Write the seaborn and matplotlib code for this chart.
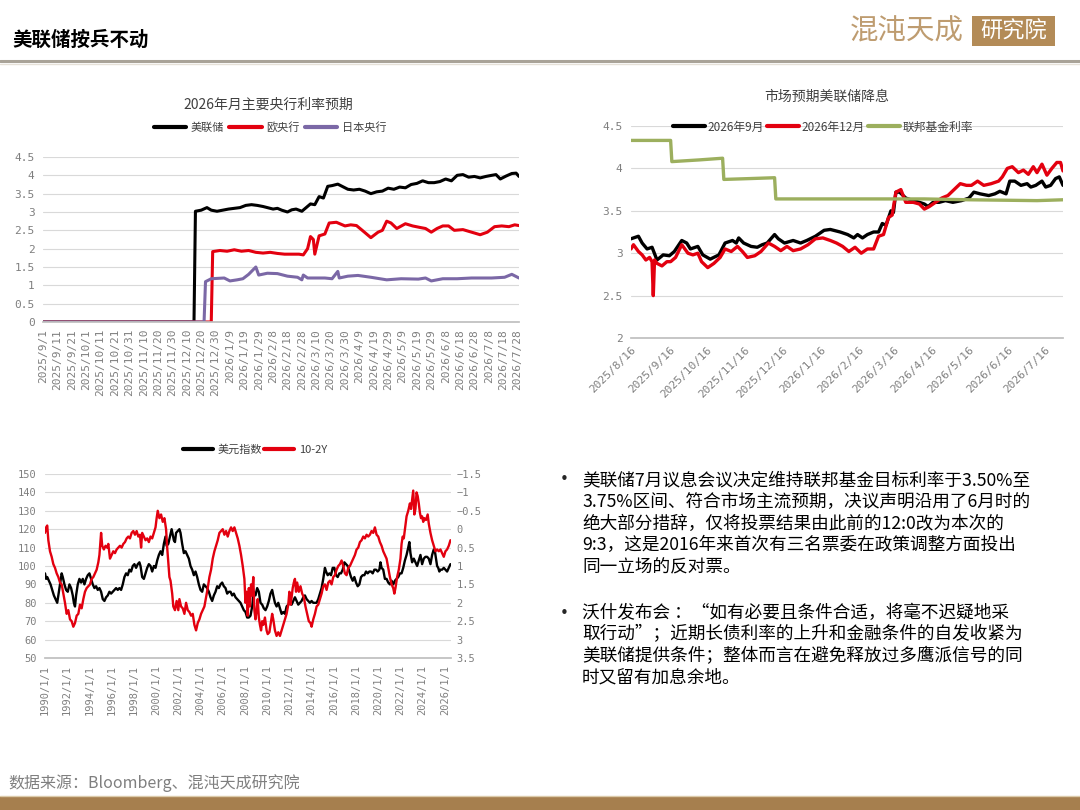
import numpy as np
import pandas as pd
import seaborn as sns
import matplotlib.pyplot as plt
import matplotlib.dates as mdates
from matplotlib.lines import Line2D
from matplotlib.patches import Rectangle
from matplotlib.ticker import FuncFormatter, MultipleLocator

# ---- chart 1: 2026 policy rate expectations by central bank ----
fed_dates = ['2025-09-01', '2025-12-15', '2025-12-16', '2025-12-20', '2025-12-24', '2025-12-27',
             '2025-12-31', '2026-01-04', '2026-01-08', '2026-01-12', '2026-01-16', '2026-01-20',
             '2026-01-24', '2026-01-28', '2026-02-01', '2026-02-04', '2026-02-08', '2026-02-11',
             '2026-02-14', '2026-02-18', '2026-02-21', '2026-02-24', '2026-02-28', '2026-03-03',
             '2026-03-06', '2026-03-09', '2026-03-12', '2026-03-15', '2026-03-18', '2026-03-21',
             '2026-03-25', '2026-03-28', '2026-04-01', '2026-04-05', '2026-04-09', '2026-04-13',
             '2026-04-17', '2026-04-21', '2026-04-25', '2026-04-29', '2026-05-03', '2026-05-07',
             '2026-05-11', '2026-05-15', '2026-05-19', '2026-05-23', '2026-05-27', '2026-05-31',
             '2026-06-04', '2026-06-08', '2026-06-12', '2026-06-16', '2026-06-20', '2026-06-24',
             '2026-06-28', '2026-07-02', '2026-07-06', '2026-07-10', '2026-07-13', '2026-07-16',
             '2026-07-20', '2026-07-24', '2026-07-27', '2026-07-29']
fed_vals = [0, 0, 3.02, 3.05, 3.12, 3.05, 3.02, 3.05, 3.08, 3.10, 3.12, 3.18,
            3.20, 3.18, 3.15, 3.12, 3.08, 3.10, 3.05, 3.00, 3.06, 3.08, 3.02, 3.12,
            3.22, 3.20, 3.42, 3.38, 3.70, 3.72, 3.76, 3.70, 3.62, 3.60, 3.62, 3.57,
            3.50, 3.55, 3.57, 3.65, 3.62, 3.68, 3.66, 3.75, 3.78, 3.85, 3.80, 3.80,
            3.83, 3.90, 3.85, 4.00, 4.02, 3.95, 3.97, 3.93, 3.97, 4.00, 4.02, 3.90,
            3.98, 4.05, 4.06, 3.97]

ecb_dates = ['2025-09-01', '2025-12-27', '2025-12-28', '2026-01-02', '2026-01-07', '2026-01-12',
             '2026-01-17', '2026-01-22', '2026-01-27', '2026-02-01', '2026-02-06', '2026-02-11',
             '2026-02-16', '2026-02-21', '2026-02-26', '2026-03-01', '2026-03-04', '2026-03-06',
             '2026-03-08', '2026-03-09', '2026-03-12', '2026-03-16', '2026-03-19', '2026-03-24',
             '2026-03-30', '2026-04-03', '2026-04-07', '2026-04-11', '2026-04-17', '2026-04-22',
             '2026-04-25', '2026-04-28', '2026-05-01', '2026-05-05', '2026-05-11', '2026-05-16',
             '2026-05-21', '2026-05-25', '2026-05-29', '2026-06-02', '2026-06-06', '2026-06-10',
             '2026-06-14', '2026-06-20', '2026-06-26', '2026-07-02', '2026-07-07', '2026-07-12',
             '2026-07-17', '2026-07-22', '2026-07-26', '2026-07-29']
ecb_vals = [0, 0, 1.92, 1.95, 1.93, 1.97, 1.93, 1.95, 1.90, 1.88, 1.90, 1.87,
            1.85, 1.85, 1.85, 1.83, 2.00, 2.33, 2.25, 1.85, 2.35, 2.40, 2.70, 2.72,
            2.62, 2.65, 2.63, 2.50, 2.30, 2.45, 2.50, 2.75, 2.70, 2.55, 2.68, 2.62,
            2.58, 2.55, 2.45, 2.55, 2.62, 2.62, 2.50, 2.52, 2.45, 2.38, 2.45, 2.60,
            2.62, 2.60, 2.65, 2.63]

boj_dates = ['2025-09-01', '2025-12-22', '2025-12-23', '2025-12-27', '2026-01-05', '2026-01-09',
             '2026-01-14', '2026-01-18', '2026-01-22', '2026-01-25', '2026-01-27', '2026-01-29',
             '2026-02-04', '2026-02-11', '2026-02-18', '2026-02-25', '2026-02-28', '2026-03-01',
             '2026-03-04', '2026-03-16', '2026-03-21', '2026-03-25', '2026-03-26', '2026-04-01',
             '2026-04-08', '2026-04-17', '2026-04-28', '2026-05-08', '2026-05-20', '2026-05-25',
             '2026-05-29', '2026-06-06', '2026-06-16', '2026-06-26', '2026-07-10', '2026-07-19',
             '2026-07-24', '2026-07-29']
boj_vals = [0, 0, 1.10, 1.18, 1.20, 1.12, 1.15, 1.18, 1.30, 1.42, 1.50, 1.28,
            1.33, 1.32, 1.25, 1.22, 1.15, 1.28, 1.20, 1.20, 1.18, 1.38, 1.20, 1.25,
            1.27, 1.22, 1.15, 1.18, 1.17, 1.20, 1.12, 1.18, 1.18, 1.20, 1.20, 1.22,
            1.30, 1.20]

# ---- chart 2: market-implied fed funds path ----
sep_dates = ['2025-08-16', '2025-08-22', '2025-08-25', '2025-08-29', '2025-09-02', '2025-09-06',
             '2025-09-11', '2025-09-16', '2025-09-20', '2025-09-26', '2025-09-30', '2025-10-03',
             '2025-10-09', '2025-10-13', '2025-10-19', '2025-10-26', '2025-10-31', '2025-11-06',
             '2025-11-09', '2025-11-11', '2025-11-15', '2025-11-21', '2025-11-26', '2025-11-30',
             '2025-12-04', '2025-12-10', '2025-12-13', '2025-12-18', '2025-12-25', '2025-12-31',
             '2026-01-05', '2026-01-12', '2026-01-19', '2026-01-24', '2026-02-01', '2026-02-07',
             '2026-02-12', '2026-02-15', '2026-02-19', '2026-02-23', '2026-02-28', '2026-03-04',
             '2026-03-07', '2026-03-10', '2026-03-14', '2026-03-16', '2026-03-18', '2026-03-21',
             '2026-03-26', '2026-04-01', '2026-04-06', '2026-04-10', '2026-04-13', '2026-04-17',
             '2026-04-22', '2026-04-27', '2026-05-03', '2026-05-10', '2026-05-16', '2026-05-20',
             '2026-05-25', '2026-06-01', '2026-06-06', '2026-06-10', '2026-06-15', '2026-06-18',
             '2026-06-22', '2026-06-27', '2026-07-02', '2026-07-05', '2026-07-09', '2026-07-14',
             '2026-07-17', '2026-07-21', '2026-07-25', '2026-07-28', '2026-07-31']
sep_vals = [3.17, 3.20, 3.12, 3.05, 3.07, 2.92, 2.98, 2.97, 3.02, 3.15, 3.12, 3.05,
            3.08, 2.98, 2.93, 2.98, 3.12, 3.15, 3.12, 3.18, 3.12, 3.08, 3.07, 3.10,
            3.12, 3.22, 3.17, 3.12, 3.15, 3.12, 3.15, 3.20, 3.27, 3.28, 3.25, 3.22,
            3.18, 3.22, 3.18, 3.22, 3.25, 3.25, 3.35, 3.33, 3.50, 3.48, 3.72, 3.72,
            3.65, 3.62, 3.60, 3.58, 3.55, 3.60, 3.60, 3.62, 3.60, 3.62, 3.65, 3.72,
            3.70, 3.68, 3.70, 3.73, 3.70, 3.85, 3.85, 3.80, 3.82, 3.78, 3.80, 3.85,
            3.78, 3.80, 3.88, 3.90, 3.80]

dec_dates = ['2025-08-16', '2025-08-18', '2025-08-22', '2025-08-25', '2025-08-28', '2025-08-31',
             '2025-09-02', '2025-09-03', '2025-09-04', '2025-09-06', '2025-09-10', '2025-09-14',
             '2025-09-17', '2025-09-21', '2025-09-26', '2025-10-01', '2025-10-05', '2025-10-09',
             '2025-10-12', '2025-10-17', '2025-10-22', '2025-10-27', '2025-10-31', '2025-11-05',
             '2025-11-10', '2025-11-14', '2025-11-18', '2025-11-24', '2025-11-29', '2025-12-05',
             '2025-12-10', '2025-12-15', '2025-12-20', '2025-12-25', '2025-12-31', '2026-01-06',
             '2026-01-12', '2026-01-18', '2026-01-24', '2026-01-29', '2026-02-03', '2026-02-08',
             '2026-02-13', '2026-02-18', '2026-02-23', '2026-02-28', '2026-03-04', '2026-03-08',
             '2026-03-12', '2026-03-15', '2026-03-18', '2026-03-22', '2026-03-26', '2026-04-01',
             '2026-04-06', '2026-04-10', '2026-04-14', '2026-04-19', '2026-04-24', '2026-04-29',
             '2026-05-04', '2026-05-09', '2026-05-14', '2026-05-18', '2026-05-23', '2026-05-28',
             '2026-06-03', '2026-06-09', '2026-06-12', '2026-06-16', '2026-06-20', '2026-06-25',
             '2026-06-29', '2026-07-03', '2026-07-07', '2026-07-10', '2026-07-14', '2026-07-18',
             '2026-07-22', '2026-07-26', '2026-07-29', '2026-07-31']
dec_vals = [3.05, 3.10, 3.02, 2.98, 2.92, 2.95, 2.90, 2.50, 2.92, 2.88, 2.85, 2.90,
            2.90, 2.95, 3.10, 3.00, 2.98, 3.00, 2.90, 2.83, 2.88, 2.95, 3.05, 3.02,
            3.08, 3.02, 2.95, 2.97, 3.02, 3.12, 3.08, 3.03, 3.08, 3.03, 3.05, 3.10,
            3.17, 3.18, 3.15, 3.12, 3.08, 3.02, 3.07, 3.00, 3.05, 3.05, 3.20, 3.22,
            3.42, 3.45, 3.72, 3.75, 3.60, 3.60, 3.58, 3.52, 3.55, 3.60, 3.65, 3.68,
            3.75, 3.82, 3.80, 3.80, 3.85, 3.80, 3.82, 3.85, 3.90, 4.00, 4.02, 3.95,
            3.98, 3.93, 4.02, 3.95, 4.05, 3.92, 4.00, 4.07, 4.07, 3.97]

ffr_dates = ['2025-08-16', '2025-09-17', '2025-09-18', '2025-10-10', '2025-10-29', '2025-10-30',
             '2025-11-20', '2025-12-10', '2025-12-11', '2026-02-10', '2026-04-10', '2026-05-16',
             '2026-07-10', '2026-07-31']
ffr_vals = [4.33, 4.33, 4.08, 4.10, 4.12, 3.87, 3.88, 3.89, 3.64, 3.64, 3.64, 3.63,
            3.62, 3.63]

# ---- chart 3: dollar index vs 10y-2y spread ----
dxy_years = [1990.0, 1990.1, 1990.2, 1990.35, 1990.5, 1990.65, 1990.8, 1990.95, 1991.1, 1991.2,
             1991.35, 1991.5, 1991.6, 1991.75, 1991.9, 1992.05, 1992.2, 1992.35, 1992.5, 1992.6,
             1992.7, 1992.8, 1992.95, 1993.1, 1993.25, 1993.4, 1993.55, 1993.7, 1993.85, 1994.0,
             1994.15, 1994.3, 1994.45, 1994.6, 1994.75, 1994.9, 1995.05, 1995.2, 1995.35, 1995.5,
             1995.65, 1995.8, 1995.95, 1996.1, 1996.25, 1996.4, 1996.55, 1996.7, 1996.85, 1997.0,
             1997.15, 1997.3, 1997.45, 1997.6, 1997.75, 1997.9, 1998.05, 1998.2, 1998.35, 1998.5,
             1998.6, 1998.75, 1998.9, 1999.05, 1999.2, 1999.35, 1999.5, 1999.65, 1999.8, 1999.95,
             2000.1, 2000.25, 2000.4, 2000.55, 2000.7, 2000.85, 2000.95, 2001.1, 2001.25, 2001.4,
             2001.5, 2001.6, 2001.7, 2001.8, 2001.95, 2002.1, 2002.2, 2002.35, 2002.5, 2002.65,
             2002.8, 2002.95, 2003.1, 2003.25, 2003.4, 2003.55, 2003.7, 2003.85, 2004.0, 2004.15,
             2004.3, 2004.45, 2004.6, 2004.75, 2004.9, 2005.05, 2005.2, 2005.35, 2005.5, 2005.65,
             2005.8, 2005.95, 2006.1, 2006.25, 2006.4, 2006.55, 2006.7, 2006.85, 2007.0, 2007.15,
             2007.3, 2007.45, 2007.6, 2007.75, 2007.9, 2008.05, 2008.2, 2008.35, 2008.5, 2008.65,
             2008.8, 2008.95, 2009.1, 2009.25, 2009.4, 2009.55, 2009.7, 2009.85, 2010.0, 2010.15,
             2010.3, 2010.45, 2010.55, 2010.7, 2010.85, 2011.0, 2011.15, 2011.3, 2011.45, 2011.6,
             2011.75, 2011.9, 2012.05, 2012.2, 2012.35, 2012.5, 2012.65, 2012.8, 2012.95, 2013.1,
             2013.25, 2013.4, 2013.55, 2013.7, 2013.85, 2014.0, 2014.15, 2014.3, 2014.45, 2014.6,
             2014.75, 2014.9, 2015.05, 2015.2, 2015.3, 2015.45, 2015.6, 2015.75, 2015.9, 2016.05,
             2016.2, 2016.35, 2016.5, 2016.65, 2016.8, 2016.95, 2017.1, 2017.25, 2017.4, 2017.55,
             2017.7, 2017.85, 2018.0, 2018.15, 2018.3, 2018.45, 2018.6, 2018.75, 2018.9, 2019.05,
             2019.2, 2019.35, 2019.5, 2019.65, 2019.8, 2019.95, 2020.1, 2020.2, 2020.3, 2020.45,
             2020.6, 2020.75, 2020.9, 2021.05, 2021.2, 2021.35, 2021.5, 2021.65, 2021.8, 2021.95,
             2022.1, 2022.25, 2022.4, 2022.55, 2022.7, 2022.8, 2022.9, 2023.05, 2023.2, 2023.35,
             2023.5, 2023.65, 2023.8, 2023.95, 2024.1, 2024.25, 2024.4, 2024.55, 2024.7, 2024.85,
             2025.0, 2025.1, 2025.2, 2025.3, 2025.4, 2025.5, 2025.6, 2025.75, 2025.9, 2026.05,
             2026.2, 2026.35, 2026.5]
dxy_vals = [96, 93, 94, 92, 90, 87, 84, 82, 80, 84,
            90, 96, 94, 90, 87, 86, 90, 88, 84, 80,
            78, 84, 90, 93, 91, 93, 90, 93, 95, 96,
            93, 90, 88, 89, 87, 88, 86, 82, 81, 83,
            84, 86, 85, 86, 87, 88, 87, 88, 87, 90,
            94, 96, 95, 98, 97, 100, 101, 99, 101, 102,
            100, 94, 93, 96, 99, 101, 100, 97, 100, 99,
            103, 106, 108, 106, 112, 116, 111, 112, 116, 120,
            117, 114, 113, 118, 119, 120, 118, 112, 107, 108,
            106, 104, 100, 98, 95, 97, 94, 90, 87, 86,
            90, 89, 88, 86, 83, 81, 84, 86, 89, 88,
            90, 91, 89, 88, 85, 86, 86, 84, 85, 83,
            82, 81, 80, 78, 76, 75, 72, 72, 73, 78,
            86, 84, 88, 86, 80, 79, 77, 76, 78, 81,
            85, 87, 84, 80, 78, 80, 77, 74, 75, 74,
            78, 79, 80, 79, 81, 83, 81, 79, 80, 81,
            83, 84, 82, 81, 80, 81, 80, 80, 80, 82,
            85, 88, 93, 99, 97, 95, 96, 95, 99, 99,
            95, 94, 96, 96, 98, 102, 101, 100, 97, 94,
            92, 94, 91, 89, 90, 94, 95, 95, 97, 96,
            97, 97, 96, 98, 98, 97, 98, 102, 99, 98,
            93, 93, 91, 90, 92, 90, 92, 93, 94, 96,
            96, 99, 103, 106, 110, 113, 107, 102, 104, 102,
            100, 103, 106, 101, 104, 105, 105, 104, 101, 106,
            109, 108, 104, 100, 99, 97, 98, 98, 99, 98,
            97, 99, 101]

spread_years = [1990.0, 1990.1, 1990.2, 1990.3, 1990.45, 1990.6, 1990.75, 1990.9, 1991.05, 1991.2,
                1991.35, 1991.5, 1991.65, 1991.8, 1991.95, 1992.1, 1992.25, 1992.4, 1992.55, 1992.7,
                1992.85, 1993.0, 1993.15, 1993.3, 1993.45, 1993.6, 1993.75, 1993.9, 1994.05, 1994.2,
                1994.35, 1994.5, 1994.65, 1994.8, 1994.9, 1995.0, 1995.05, 1995.15, 1995.3, 1995.45,
                1995.6, 1995.7, 1995.85, 1996.0, 1996.15, 1996.3, 1996.45, 1996.6, 1996.75, 1996.9,
                1997.05, 1997.2, 1997.35, 1997.5, 1997.65, 1997.8, 1997.95, 1998.1, 1998.25, 1998.4,
                1998.55, 1998.65, 1998.75, 1998.9, 1999.05, 1999.2, 1999.35, 1999.5, 1999.65, 1999.8,
                1999.95, 2000.05, 2000.15, 2000.3, 2000.45, 2000.6, 2000.75, 2000.9, 2001.0, 2001.1,
                2001.2, 2001.3, 2001.45, 2001.55, 2001.7, 2001.85, 2002.0, 2002.1, 2002.25, 2002.4,
                2002.55, 2002.7, 2002.85, 2003.0, 2003.15, 2003.3, 2003.45, 2003.6, 2003.75, 2003.9,
                2004.05, 2004.2, 2004.35, 2004.5, 2004.65, 2004.8, 2004.95, 2005.1, 2005.25, 2005.4,
                2005.55, 2005.7, 2005.85, 2006.0, 2006.15, 2006.3, 2006.45, 2006.6, 2006.75, 2006.9,
                2007.05, 2007.2, 2007.35, 2007.5, 2007.65, 2007.8, 2007.95, 2008.05, 2008.15, 2008.25,
                2008.35, 2008.45, 2008.55, 2008.65, 2008.75, 2008.85, 2008.95, 2009.05, 2009.15, 2009.25,
                2009.35, 2009.45, 2009.55, 2009.65, 2009.8, 2009.95, 2010.05, 2010.2, 2010.35, 2010.45,
                2010.55, 2010.7, 2010.85, 2011.0, 2011.15, 2011.3, 2011.45, 2011.6, 2011.75, 2011.9,
                2012.0, 2012.1, 2012.2, 2012.3, 2012.4, 2012.5, 2012.6, 2012.7, 2012.85, 2013.0,
                2013.15, 2013.3, 2013.45, 2013.6, 2013.75, 2013.9, 2014.0, 2014.15, 2014.3, 2014.45,
                2014.6, 2014.75, 2014.9, 2015.05, 2015.2, 2015.35, 2015.5, 2015.65, 2015.8, 2015.95,
                2016.1, 2016.25, 2016.4, 2016.55, 2016.7, 2016.85, 2017.0, 2017.15, 2017.3, 2017.45,
                2017.6, 2017.75, 2017.9, 2018.05, 2018.2, 2018.35, 2018.5, 2018.65, 2018.8, 2018.95,
                2019.1, 2019.25, 2019.4, 2019.55, 2019.7, 2019.85, 2020.0, 2020.15, 2020.3, 2020.45,
                2020.6, 2020.75, 2020.9, 2021.05, 2021.2, 2021.35, 2021.45, 2021.55, 2021.7, 2021.85,
                2022.0, 2022.1, 2022.2, 2022.3, 2022.45, 2022.55, 2022.7, 2022.85, 2022.95, 2023.05,
                2023.15, 2023.25, 2023.35, 2023.45, 2023.55, 2023.65, 2023.75, 2023.85, 2023.95, 2024.05,
                2024.15, 2024.3, 2024.45, 2024.55, 2024.7, 2024.85, 2025.0, 2025.15, 2025.3, 2025.45,
                2025.6, 2025.75, 2025.9, 2026.05, 2026.2, 2026.35, 2026.5]
spread_vals = [0.10, -0.05, -0.10, 0.30, 0.60, 0.75, 0.95, 1.05, 1.20, 1.30,
               1.45, 1.50, 1.75, 2.00, 2.30, 2.20, 2.45, 2.50, 2.65, 2.55,
               2.35, 2.30, 2.05, 2.15, 1.90, 1.70, 1.60, 1.55, 1.50, 1.35,
               1.30, 1.20, 1.10, 0.90, 0.70, 0.30, 0.10, 0.45, 0.55, 0.45,
               0.50, 0.40, 0.80, 0.70, 0.60, 0.65, 0.55, 0.50, 0.45, 0.50,
               0.40, 0.35, 0.25, 0.20, 0.25, 0.10, 0.05, 0.15, 0.05, 0.20,
               0.15, 0.50, 0.10, 0.20, 0.30, 0.25, 0.35, 0.20, 0.25, 0.10,
               -0.05, -0.30, -0.50, -0.30, -0.40, -0.20, -0.30, 0.00, 0.50, 0.90,
               1.30, 1.40, 1.75, 2.10, 2.20, 1.95, 2.20, 1.90, 2.10, 2.15,
               2.30, 2.00, 2.20, 2.25, 2.35, 2.30, 2.60, 2.75, 2.55, 2.45,
               2.30, 2.20, 2.10, 1.85, 1.60, 1.30, 1.10, 0.80, 0.60, 0.45,
               0.30, 0.10, 0.05, 0.00, 0.15, 0.05, 0.20, 0.05, -0.05, 0.05,
               -0.05, 0.10, 0.25, 0.45, 0.70, 1.00, 1.35, 2.00, 1.70, 2.35,
               1.60, 2.10, 1.50, 1.80, 1.30, 2.20, 2.45, 2.20, 1.90, 2.40,
               2.60, 2.75, 2.50, 2.60, 2.40, 2.75, 2.85, 2.80, 2.50, 2.30,
               2.45, 2.75, 2.90, 2.80, 2.90, 2.75, 2.60, 2.45, 2.30, 2.05,
               1.70, 2.05, 1.85, 1.60, 1.45, 1.35, 1.70, 1.45, 1.70, 1.55,
               1.75, 1.85, 2.10, 2.30, 2.50, 2.55, 2.65, 2.45, 2.30, 2.10,
               2.05, 1.90, 1.75, 1.55, 1.50, 1.65, 1.45, 1.40, 1.50, 1.30,
               1.25, 1.10, 1.00, 0.95, 0.85, 1.00, 1.20, 1.25, 1.05, 1.00,
               0.90, 0.80, 0.70, 0.55, 0.50, 0.35, 0.30, 0.20, 0.25, 0.15,
               0.20, 0.15, 0.05, 0.10, -0.05, 0.15, 0.20, 0.35, 0.45, 0.60,
               0.70, 0.80, 1.05, 1.30, 1.50, 1.60, 1.75, 1.60, 1.30, 1.10,
               0.80, 0.40, 0.20, 0.25, -0.10, -0.35, -0.50, -0.70, -0.55, -0.80,
               -1.05, -0.40, -0.55, -1.00, -0.90, -0.70, -0.45, -0.30, -0.35, -0.20,
               -0.30, -0.25, -0.40, -0.15, 0.10, 0.30, 0.45, 0.60, 0.55, 0.60,
               0.55, 0.65, 0.75, 0.60, 0.55, 0.45, 0.30]

para1 = ["美联储7月议息会议决定维持联邦基金目标利率于3.50%至",
         "3.75%区间、符合市场主流预期，决议声明沿用了6月时的",
         "绝大部分措辞，仅将投票结果由此前的12:0改为本次的",
         "9:3，这是2016年来首次有三名票委在政策调整方面投出",
         "同一立场的反对票。"]
para2 = ["沃什发布会 ：“如有必要且条件合适，将毫不迟疑地采",
         "取行动”；近期长债利率的上升和金融条件的自发收紧为",
         "美联储提供条件；整体而言在避免释放过多鹰派信号的同",
         "时又留有加息余地。"]

BLACK = '#000000'
RED = '#E3000F'
PURPLE = '#7B68A6'
GREEN = '#9CAF5E'
GRID = '#D9D9D9'
TICK = '#7F7F7F'
MONO = 'DejaVu Sans Mono'

sns.set_theme(style="white")
plt.rcParams['font.family'] = ['Noto Sans CJK SC', 'DejaVu Sans']
plt.rcParams['axes.unicode_minus'] = False

W, H = 1080, 810
fig = plt.figure(figsize=(W / 100, H / 100), dpi=100)
fig.patch.set_facecolor('white')


def box(l, t, r, b):
    return [l / W, 1 - b / H, (r - l) / W, (b - t) / H]


def fy(py):
    return 1 - py / H


def clean(ax, step, lo, hi):
    ax.set_ylim(lo, hi)
    ax.yaxis.set_major_locator(MultipleLocator(step))
    ax.yaxis.set_major_formatter(FuncFormatter(lambda v, p: f"{v:g}"))
    ax.grid(axis='y', color=GRID, lw=0.8)
    ax.grid(axis='x', visible=False)
    for s in ['top', 'right', 'left']:
        ax.spines[s].set_visible(False)
    ax.spines['bottom'].set_color('#BFBFBF')
    ax.tick_params(axis='x', length=3, width=0.8, color='#BFBFBF', labelsize=8,
                   labelcolor=TICK, labelfontfamily=MONO, pad=2)
    ax.tick_params(axis='y', length=0, labelsize=8, labelcolor=TICK,
                   labelfontfamily=MONO, pad=6)
    ax.set_xlabel('')
    ax.set_ylabel('')
    ax.set_facecolor('white')


def date_fmt(v, p):
    d = mdates.num2date(v)
    return f"{d.year}/{d.month}/{d.day}"


# ---------------- chart 1 ----------------
ax1 = fig.add_axes(box(43, 157, 519, 322))
c1 = pd.concat([
    pd.DataFrame({'date': pd.to_datetime(fed_dates), 'rate': fed_vals, 'bank': '美联储'}),
    pd.DataFrame({'date': pd.to_datetime(ecb_dates), 'rate': ecb_vals, 'bank': '欧央行'}),
    pd.DataFrame({'date': pd.to_datetime(boj_dates), 'rate': boj_vals, 'bank': '日本央行'}),
])
pal1 = {'美联储': BLACK, '欧央行': RED, '日本央行': PURPLE}
sns.lineplot(data=c1, x='date', y='rate', hue='bank', palette=pal1, linewidth=2.2,
             estimator=None, legend=False, ax=ax1)
clean(ax1, 0.5, 0, 4.5)
ticks1 = pd.date_range('2025-09-01', '2026-07-28', freq='10D')
ax1.set_xlim(mdates.date2num(pd.Timestamp('2025-09-01')), mdates.date2num(pd.Timestamp('2026-07-29')))
ax1.set_xticks(mdates.date2num(ticks1))
ax1.xaxis.set_major_formatter(FuncFormatter(date_fmt))
plt.setp(ax1.get_xticklabels(), rotation=90)
fig.text(268 / W, fy(105), '2026年月主要央行利率预期', ha='center', va='center',
         fontsize=10, color='#404040')
h1 = [Line2D([], [], color=pal1[k], lw=3) for k in pal1]
fig.legend(h1, list(pal1), loc='center', bbox_to_anchor=(270 / W, fy(127)), ncol=3,
           frameon=False, fontsize=8, handlelength=2.9, handletextpad=0.4,
           columnspacing=0.5, labelcolor='#404040')

# ---------------- chart 2 ----------------
ax2 = fig.add_axes(box(631, 126, 1063, 338))
c2 = pd.concat([
    pd.DataFrame({'date': pd.to_datetime(sep_dates), 'rate': sep_vals, 'series': '2026年9月'}),
    pd.DataFrame({'date': pd.to_datetime(dec_dates), 'rate': dec_vals, 'series': '2026年12月'}),
    pd.DataFrame({'date': pd.to_datetime(ffr_dates), 'rate': ffr_vals, 'series': '联邦基金利率'}),
])
pal2 = {'2026年9月': BLACK, '2026年12月': RED, '联邦基金利率': GREEN}
sns.lineplot(data=c2, x='date', y='rate', hue='series', palette=pal2, linewidth=2.4,
             estimator=None, legend=False, ax=ax2)
clean(ax2, 0.5, 2, 4.5)
ticks2 = pd.date_range('2025-08-01', '2026-07-01', freq='MS') + pd.Timedelta(days=15)
ax2.set_xlim(mdates.date2num(pd.Timestamp('2025-08-16')), mdates.date2num(pd.Timestamp('2026-07-31')))
ax2.set_xticks(mdates.date2num(ticks2))
ax2.xaxis.set_major_formatter(FuncFormatter(date_fmt))
plt.setp(ax2.get_xticklabels(), rotation=45, ha='right', rotation_mode='anchor')
fig.text(827 / W, fy(97), '市场预期美联储降息', ha='center', va='center',
         fontsize=10, color='#404040')
h2 = [Line2D([], [], color=pal2[k], lw=3) for k in pal2]
fig.legend(h2, list(pal2), loc='center', bbox_to_anchor=(823 / W, fy(127)), ncol=3,
           frameon=False, fontsize=8.5, handlelength=2.7, handletextpad=0.2,
           columnspacing=0.3, labelcolor='#404040')

# ---------------- chart 3 ----------------
ax3 = fig.add_axes(box(45, 474, 451, 658))
d3 = pd.DataFrame({'year': dxy_years, 'value': dxy_vals})
sns.lineplot(data=d3, x='year', y='value', color=BLACK, linewidth=1.7,
             estimator=None, ax=ax3)
clean(ax3, 10, 50, 150)
ax3.set_xlim(1990, 2026.55)
ax3.set_xticks(list(range(1990, 2027, 2)))
ax3.xaxis.set_major_formatter(FuncFormatter(lambda v, p: f"{int(round(v))}/1/1"))
ax3.tick_params(axis='x', labelsize=7.5)
ax3.tick_params(axis='y', labelsize=7.5)
plt.setp(ax3.get_xticklabels(), rotation=90)

ax3b = ax3.twinx()
s3 = pd.DataFrame({'year': spread_years, 'spread': spread_vals})
sns.lineplot(data=s3, x='year', y='spread', color=RED, linewidth=1.7,
             estimator=None, ax=ax3b)
ax3b.set_ylim(3.5, -1.5)
ax3b.yaxis.set_major_locator(MultipleLocator(0.5))
ax3b.yaxis.set_major_formatter(FuncFormatter(lambda v, p: f"{v:g}".replace('-', '−')))
ax3b.grid(False)
for s in ax3b.spines.values():
    s.set_visible(False)
ax3b.tick_params(axis='y', length=0, labelsize=7.5, labelcolor=TICK,
                 labelfontfamily=MONO, pad=4)
ax3b.set_ylabel('')
h3 = [Line2D([], [], color=BLACK, lw=3), Line2D([], [], color=RED, lw=3)]
fig.legend(h3, ['美元指数', '10-2Y'], loc='center', bbox_to_anchor=(255 / W, fy(450)),
           ncol=2, frameon=False, fontsize=8, handlelength=2.7, handletextpad=0.4,
           columnspacing=0.2, labelcolor='#404040')

# ---------------- commentary text ----------------
for i, line in enumerate(para1):
    y = 480 + i * 21.8
    if i == 0:
        fig.text(560 / W, fy(y), '•', ha='left', va='center', fontsize=11,
                 family='DejaVu Sans')
    fig.text(582 / W, fy(y), line, ha='left', va='center', fontsize=12.7, color='black')
for i, line in enumerate(para2):
    y = 613 + i * 21.4
    if i == 0:
        fig.text(560 / W, fy(y), '•', ha='left', va='center', fontsize=11,
                 family='DejaVu Sans')
    fig.text(582 / W, fy(y), line, ha='left', va='center', fontsize=12.7, color='black')

# ---------------- header / footer ----------------
fig.text(12 / W, fy(40), '美联储按兵不动', ha='left', va='center', fontsize=14,
         fontweight='bold', color='black')
fig.text(850 / W, fy(31), '混沌天成', ha='left', va='center', fontsize=20.5, color='#BE9C70')
fig.add_artist(Rectangle((972 / W, fy(46)), 83 / W, 30 / H, transform=fig.transFigure,
                         color='#B38B57', lw=0))
fig.text(1013.5 / W, fy(31), '研究院', ha='center', va='center', fontsize=16, color='white')
fig.add_artist(Line2D([0, 1], [fy(61), fy(61)], transform=fig.transFigure,
                      color='#A9A398', lw=2.2))
fig.add_artist(Line2D([0, 1], [fy(63.5), fy(63.5)], transform=fig.transFigure,
                      color='#E6E1D8', lw=1))

fig.text(8 / W, fy(783), '数据来源：Bloomberg、混沌天成研究院', ha='left', va='center',
         fontsize=11.5, color='#7F7F7F')
fig.add_artist(Line2D([0, 1], [fy(795.5), fy(795.5)], transform=fig.transFigure,
                      color='#DCCBAA', lw=1))
fig.add_artist(Rectangle((0, 0), 1, 14 / H, transform=fig.transFigure,
                         color='#A67F4E', lw=0))

fig.savefig('out.png', dpi=100, facecolor='white')
